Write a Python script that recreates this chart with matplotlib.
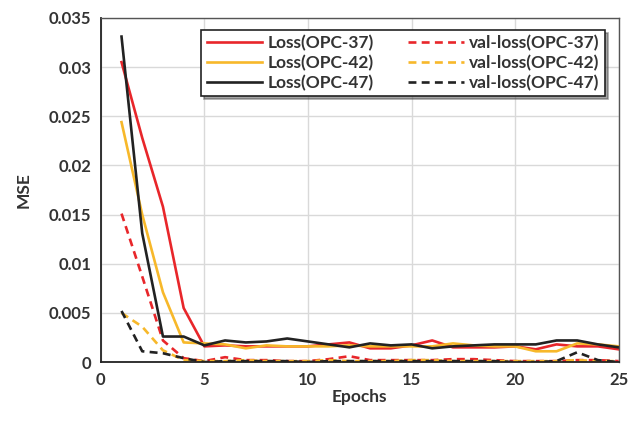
import matplotlib
matplotlib.use('Agg')
import matplotlib.pyplot as plt

plt.rcParams['font.family'] = ['Lato', 'DejaVu Sans']
plt.rcParams['font.weight'] = 'bold'

epochs = list(range(1, 26))

loss_37 = [0.0305, 0.0228, 0.0158, 0.0055, 0.0016, 0.0017, 0.0016, 0.0016, 0.0016, 0.0016,
           0.0018, 0.0020, 0.0014, 0.0014, 0.0017, 0.0022, 0.0015, 0.0015, 0.0015, 0.0016,
           0.0013, 0.0018, 0.0016, 0.0016, 0.0013]
loss_42 = [0.0244, 0.0150, 0.0071, 0.0020, 0.0019, 0.0018, 0.0014, 0.0017, 0.0016, 0.0016,
           0.0016, 0.0017, 0.0016, 0.0016, 0.0016, 0.0016, 0.0019, 0.0017, 0.0016, 0.0016,
           0.0011, 0.0011, 0.0019, 0.0018, 0.0016]
loss_47 = [0.0331, 0.0131, 0.0026, 0.0026, 0.0017, 0.0022, 0.0020, 0.0021, 0.0024, 0.0021,
           0.0018, 0.0015, 0.0019, 0.0017, 0.0018, 0.0014, 0.0016, 0.0017, 0.0018, 0.0018,
           0.0018, 0.0022, 0.0022, 0.0018, 0.0015]
val_37 = [0.0151, 0.0087, 0.0022, 0.0004, 0.0001, 0.0005, 0.0002, 0.0002, 0.0001, 0.0001,
          0.0003, 0.0006, 0.0002, 0.0002, 0.0002, 0.0002, 0.0003, 0.0003, 0.0002, 0.0001,
          0.0001, 0.0001, 0.0002, 0.0002, 0.0001]
val_42 = [0.0050, 0.0036, 0.0012, 0.0002, 0.0001, 0.0001, 0.0002, 0.0001, 0.0001, 0.0001,
          0.0002, 0.0001, 0.0001, 0.0001, 0.0002, 0.0002, 0.0001, 0.0001, 0.0001, 0.0001,
          0.0001, 0.0001, 0.0002, 0.0001, 0.0001]
val_47 = [0.0052, 0.0011, 0.0009, 0.0004, 0.0000, 0.0001, 0.0001, 0.0001, 0.0001, 0.0000,
          0.0001, 0.0001, 0.0001, 0.0001, 0.0001, 0.0001, 0.0001, 0.0001, 0.0001, 0.0000,
          0.0000, 0.0001, 0.0010, 0.0002, 0.0000]

red = '#e8262a'
yellow = '#f7b82a'
black = '#222222'

fig = plt.figure(figsize=(6.3, 4.26), dpi=100)
ax = fig.add_axes([0.160, 0.150, 0.822, 0.808])

lw = 1.9
ax.plot(epochs, loss_37, color=red, lw=lw, label='Loss(OPC-37)')
ax.plot(epochs, val_37, color=red, lw=lw, ls=(0, (3, 2)), label='val-loss(OPC-37)')
ax.plot(epochs, loss_42, color=yellow, lw=lw, label='Loss(OPC-42)')
ax.plot(epochs, val_42, color=yellow, lw=lw, ls=(0, (3, 2)), label='val-loss(OPC-42)')
ax.plot(epochs, loss_47, color=black, lw=lw, label='Loss(OPC-47)')
ax.plot(epochs, val_47, color=black, lw=lw, ls=(0, (3, 2)), label='val-loss(OPC-47)')

ax.set_xlim(0, 25)
ax.set_ylim(0, 0.035)
ax.set_xticks([0, 5, 10, 15, 20, 25])
ax.set_yticks([0, 0.005, 0.01, 0.015, 0.02, 0.025, 0.03, 0.035])
ax.set_yticklabels(['0', '0.005', '0.01', '0.015', '0.02', '0.025', '0.03', '0.035'])
ax.tick_params(length=0, labelsize=12, colors='#333333', pad=7)
ax.grid(True, color='#d9d9d9', lw=1)
ax.set_axisbelow(True)

for side in ['left', 'bottom']:
    ax.spines[side].set_color('#222222')
    ax.spines[side].set_linewidth(1.3)
for side in ['top', 'right']:
    ax.spines[side].set_color('#555555')
    ax.spines[side].set_linewidth(1.0)

ax.set_xlabel('Epochs', fontsize=12.5, fontweight='bold', color='#333333', labelpad=1)
ax.set_ylabel('MSE', fontsize=12.5, fontweight='bold', color='#333333', labelpad=12)

# reorder so the columns read Loss / val-loss
h, l = ax.get_legend_handles_labels()
order = [0, 2, 4, 1, 3, 5]
leg = ax.legend([h[i] for i in order], [l[i] for i in order], ncol=2,
                loc='upper right', bbox_to_anchor=(0.99, 0.99),
                fancybox=False, shadow=True, edgecolor='#222222', framealpha=1,
                fontsize=12.5, handlelength=3.2, columnspacing=2.0,
                handletextpad=0.3, borderpad=0.3, labelspacing=0.2)
leg.get_frame().set_linewidth(1.2)
for t in leg.get_texts():
    t.set_color('#333333')

plt.savefig('out.png', dpi=100)
